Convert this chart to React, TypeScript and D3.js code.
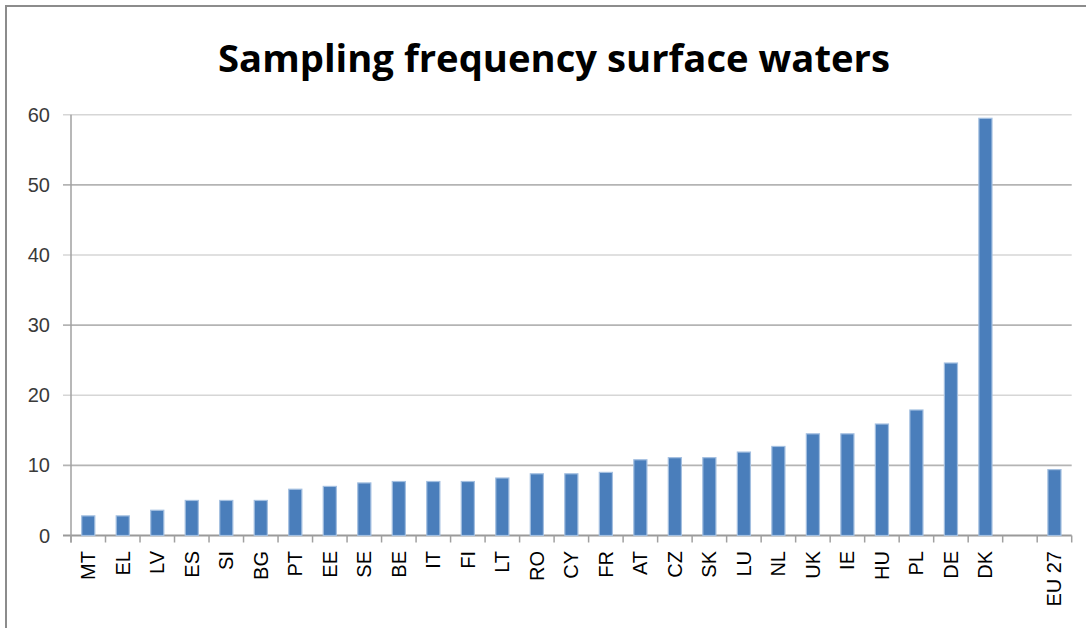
import React from "react";
import * as d3 from "d3";

const categories: string[] = [
  "MT", "EL", "LV", "ES", "SI", "BG", "PT", "EE", "SE", "BE", "IT", "FI", "LT", "RO",
  "CY", "FR", "AT", "CZ", "SK", "LU", "NL", "UK", "IE", "HU", "PL", "DE", "DK", "", "EU 27",
];
const values: (number | null)[] = [
  2.8, 2.8, 3.6, 5.0, 5.0, 5.0, 6.6, 7.0, 7.5, 7.7, 7.7, 7.7, 8.2, 8.8,
  8.8, 9.0, 10.8, 11.1, 11.1, 11.9, 12.7, 14.5, 14.5, 15.9, 17.9, 24.6, 59.5, null, 9.4,
];
const yTicks: number[] = [0, 10, 20, 30, 40, 50, 60];
const title = "Sampling frequency surface waters";

const W = 1086;
const H = 628;
const plotLeft = 71;
const plotRight = 1071.7;
const plotBottom = 535.5;
const plotTop = 114.8;

export default function App() {
  if (typeof document !== "undefined") document.body.style.margin = "0";
  const idx = categories.map((_, i) => i);
  const x = d3.scaleBand<number>().domain(idx).range([plotLeft, plotRight]).paddingInner(0).paddingOuter(0);
  const y = d3.scaleLinear().domain([0, 60]).range([plotBottom, plotTop]);
  const bw = x.bandwidth() * 0.38;

  return (
    <svg width={W} height={H} style={{ position: "absolute", left: 0, top: 0, background: "#fff" }}>
      <rect x={0} y={0} width={W} height={H} fill="#fff" />
      <rect x={6} y={6} width={W + 10} height={H + 10} fill="none" stroke="#8c8c8c" strokeWidth={2} />
      <text
        x={(218 + 890) / 2}
        y={72}
        textAnchor="middle"
        fontFamily="'Open Sans', 'Noto Sans', sans-serif"
        fontWeight={700}
        fontSize={37}
        textLength={672}
        lengthAdjust="spacingAndGlyphs"
        fill="#000"
      >
        {title}
      </text>
      {yTicks.map((t) => (
        <line
          key={"g" + t}
          x1={63}
          x2={plotRight}
          y1={y(t)}
          y2={y(t)}
          stroke={t === 0 ? "#9a9a9a" : (t / 10) % 2 === 1 ? "#b4b4b4" : "#d6d6d6"}
          strokeWidth={t === 0 ? 2 : 1.6}
        />
      ))}
      <line x1={plotLeft} x2={plotLeft} y1={plotTop} y2={plotBottom + 7} stroke="#a0a0a0" strokeWidth={1.5} />
      {yTicks.map((t) => (
        <text
          key={"yl" + t}
          x={50}
          y={y(t)}
          textAnchor="end"
          dominantBaseline="central"
          fontFamily="'Liberation Sans', Arial, sans-serif"
          fontSize={20}
          fill="#3a3a3a"
        >
          {t}
        </text>
      ))}
      {idx.concat([categories.length]).map((i) => {
        const xx = i < categories.length ? (x(i) as number) : plotRight;
        return (
          <line key={"xt" + i} x1={xx} x2={xx} y1={plotBottom} y2={plotBottom + 7} stroke="#a0a0a0" strokeWidth={1.5} />
        );
      })}
      {values.map((v, i) => {
        if (v === null) return null;
        const cx = (x(i) as number) + x.bandwidth() / 2;
        return (
          <rect
            key={"b" + i}
            x={cx - bw / 2}
            y={y(v)}
            width={bw}
            height={y(0) - y(v)}
            fill="#4a7ebb"
            stroke="#a3bfe0"
            strokeWidth={1.2}
          />
        );
      })}
      {categories.map((c, i) => {
        if (!c) return null;
        const cx = (x(i) as number) + x.bandwidth() / 2;
        return (
          <text
            key={"xl" + i}
            transform={`translate(${cx},551) rotate(-90)`}
            textAnchor="end"
            dominantBaseline="central"
            fontFamily="'Liberation Sans', Arial, sans-serif"
            fontSize={20}
            fill="#000"
          >
            {c}
          </text>
        );
      })}
    </svg>
  );
}
